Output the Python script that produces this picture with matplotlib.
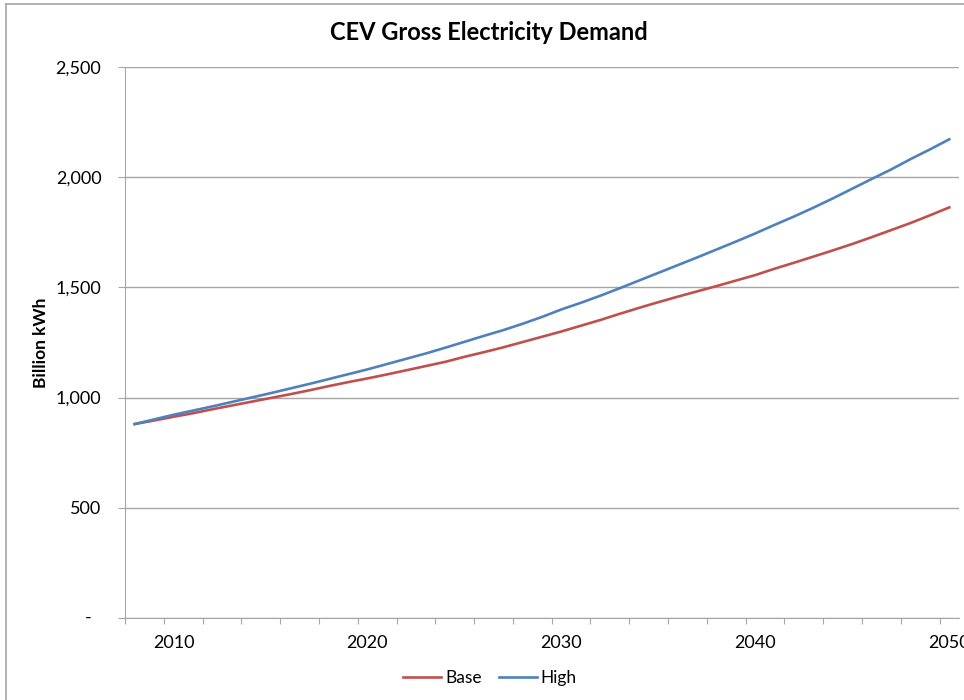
import matplotlib.pyplot as plt
import matplotlib.transforms as mtransforms
from matplotlib.lines import Line2D
from matplotlib.ticker import FuncFormatter

plt.rcParams['font.family'] = ['Lato', 'DejaVu Sans']

years = list(range(2008, 2051))
base = [880, 896, 913, 929, 947, 964, 981, 998, 1015, 1033, 1052, 1070,
        1087, 1105, 1124, 1143, 1162, 1185, 1206, 1228, 1252, 1276, 1300,
        1326, 1352, 1380, 1407, 1433, 1458, 1482, 1506, 1531, 1556, 1585,
        1612, 1640, 1668, 1697, 1728, 1760, 1792, 1827, 1863]
high = [880, 901, 922, 941, 960, 980, 1000, 1020, 1041, 1062, 1084, 1106,
        1128, 1152, 1176, 1200, 1226, 1253, 1280, 1306, 1335, 1366, 1400,
        1430, 1462, 1496, 1531, 1566, 1601, 1636, 1672, 1708, 1745, 1784,
        1822, 1862, 1904, 1948, 1992, 2035, 2082, 2126, 2172]
yticks = [0, 500, 1000, 1500, 2000, 2500]
xlabels = [2010, 2020, 2030, 2040, 2050]

W, H = 964, 700
fig = plt.figure(figsize=(W / 100, H / 100), dpi=100)
ax = fig.add_axes([125 / W, 1 - 618 / H, 834 / W, (618 - 67) / H])

gray = '#a6a6a6'
ax.plot(years, base, color='#c0504d', lw=1.9, label='Base')
ax.plot(years, high, color='#4f81bd', lw=1.9, label='High')

ax.set_xlim(2007.5, 2050.5)
ax.set_ylim(0, 2500)
ax.set_yticks(yticks)
ax.yaxis.set_major_formatter(FuncFormatter(lambda v, p: '' if v == 0 else f'{int(v):,}'))
ax.grid(axis='y', color=gray, lw=1)
ax.set_axisbelow(True)

# category boundaries get tick marks, labels sit on category centres
ax.set_xticks([y - 0.5 for y in range(2008, 2051, 2)])
ax.set_xticklabels([])
ax.set_xticks(xlabels, minor=True)
ax.set_xticklabels([str(x) for x in xlabels], minor=True)
ax.tick_params(axis='x', which='major', length=4, color=gray, direction='out')
ax.tick_params(axis='x', which='minor', length=0, pad=12, labelsize=13)
ax.tick_params(axis='y', length=5, color=gray, pad=12, labelsize=13)

for s in ['top', 'right']:
    ax.spines[s].set_visible(False)
for s in ['left', 'bottom']:
    ax.spines[s].set_color(gray)

# accounting-style dash for zero
trans = mtransforms.blended_transform_factory(ax.transAxes, ax.transData)
ax.text(-0.044, 0, '-', transform=trans, ha='center', va='center', fontsize=13)

ax.set_ylabel('Billion kWh', fontsize=12.5, fontweight='bold')
ax.yaxis.set_label_coords(-0.091, 0.5)
fig.text(489 / W, 1 - 32 / H, 'CEV Gross Electricity Demand', ha='center',
         va='center', fontsize=17, fontweight='bold')

fig.legend(loc='center', bbox_to_anchor=(490 / W, 1 - 678 / H), ncol=2,
           frameon=False, fontsize=12.5, handlelength=2.2, handletextpad=0.2,
           columnspacing=1.0)

# chart area border
fig.add_artist(Line2D([6 / W, 6 / W], [0, 1 - 4 / H], color=gray, lw=1.2))
fig.add_artist(Line2D([6 / W, 1], [1 - 4 / H, 1 - 4 / H], color=gray, lw=1.2))

fig.savefig('out.png', dpi=100)
